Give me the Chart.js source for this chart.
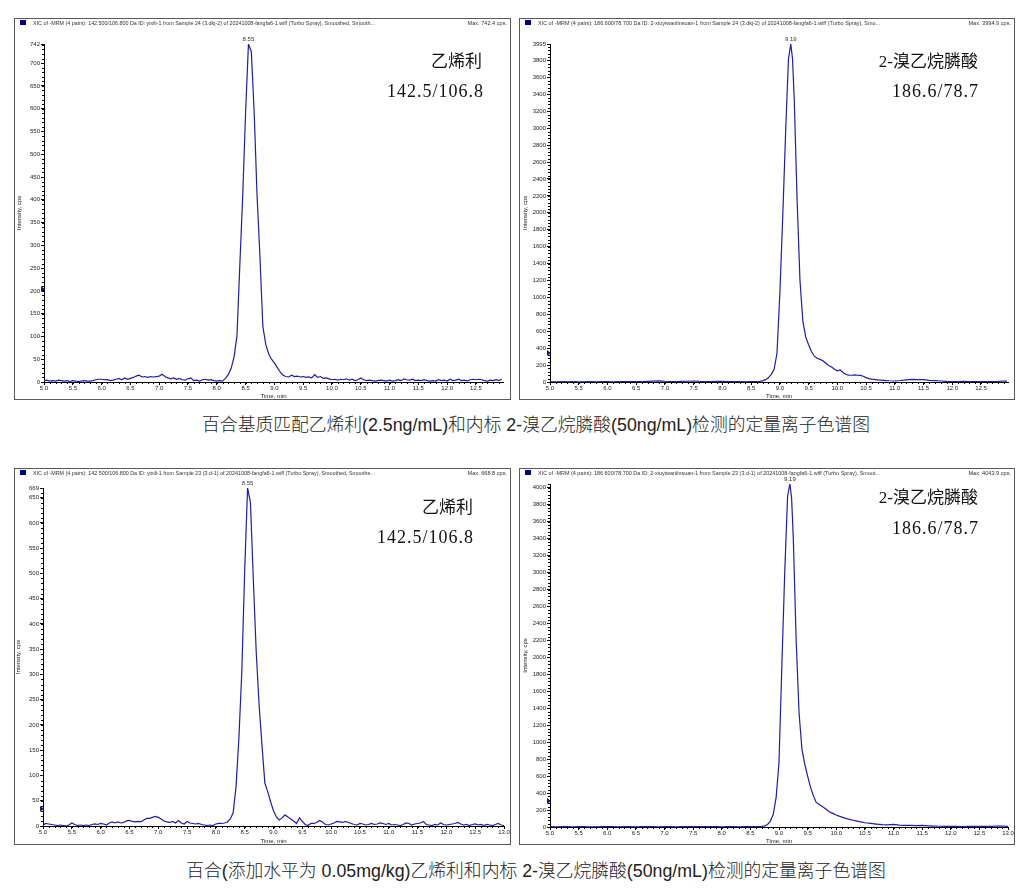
<!DOCTYPE html>
<html>
<head>
<meta charset="utf-8">
<script src="https://cdn.jsdelivr.net/npm/chart.js@4.4.1/dist/chart.umd.min.js"></script>
<style>
  body { margin: 0; background: #fff; }
  #page { position: relative; width: 1034px; height: 896px; overflow: hidden;
          font-family: "Liberation Sans", "Noto Sans CJK SC", sans-serif; }
  #page canvas { position: absolute; }
  .name { position: absolute; white-space: nowrap; color: #111; line-height: 20px;
          font-family: "Liberation Serif", "Noto Sans CJK SC", serif; }
  .trans { letter-spacing: 1px; font-size: 18px; }
  .caption { position: absolute; left: 19px; width: 1034px; text-align: center;
             font-size: 17.8px; line-height: 22px; color: #222; font-weight: 300; }
</style>
</head>
<body>
<div id="page">
  <canvas id="c1"></canvas>
  <canvas id="c2"></canvas>
  <canvas id="c3"></canvas>
  <canvas id="c4"></canvas>

  <div class="name" style="right:552px;top:52px;font-size:17px">乙烯利</div>
  <div class="name trans" style="right:550px;top:81px">142.5/106.8</div>
  <div class="name" style="right:56px;top:52px;font-size:17px">2-溴乙烷膦酸</div>
  <div class="name trans" style="right:55px;top:81px">186.6/78.7</div>
  <div class="name" style="right:561px;top:498px;font-size:17px">乙烯利</div>
  <div class="name trans" style="right:560px;top:527px">142.5/106.8</div>
  <div class="name" style="right:56px;top:488px;font-size:17px">2-溴乙烷膦酸</div>
  <div class="name trans" style="right:55px;top:518px">186.6/78.7</div>

  <div class="caption" style="top:414px">百合基质匹配乙烯利(2.5ng/mL)和内标 2-溴乙烷膦酸(50ng/mL)检测的定量离子色谱图</div>
  <div class="caption" style="top:860px">百合(添加水平为 0.05mg/kg)乙烯利和内标 2-溴乙烷膦酸(50ng/mL)检测的定量离子色谱图</div>
</div>

<script>
// [time (min), intensity (cps)]
const ethephonMatrix = [
  [5.00,3],[5.05,4],[5.10,2],[5.15,3],[5.20,2],[5.25,4],[5.30,3],[5.35,2],[5.40,3],[5.45,1],
  [5.50,3],[5.55,2],[5.60,1],[5.65,2],[5.70,3],[5.75,2],[5.80,2],[5.85,3],[5.90,5],[5.95,6],
  [6.00,6],[6.05,5],[6.10,5],[6.15,3],[6.20,4],[6.25,6],[6.30,8],[6.35,5],[6.40,9],[6.45,6],
  [6.50,8],[6.55,10],[6.60,13],[6.65,15],[6.70,11],[6.75,12],[6.80,10],[6.85,12],[6.90,11],[6.95,12],
  [7.00,13],[7.05,17],[7.10,12],[7.15,9],[7.20,7],[7.25,9],[7.30,6],[7.35,8],[7.40,5],[7.45,4],
  [7.50,7],[7.55,9],[7.60,3],[7.65,4],[7.70,2],[7.75,5],[7.80,6],[7.85,4],[7.90,5],[7.95,3],
  [8.00,2],[8.05,3],[8.10,2],[8.15,8],[8.20,16],[8.25,30],[8.30,55],[8.35,100],[8.40,255],[8.45,407],
  [8.50,590],[8.55,742],[8.60,725],[8.65,590],[8.70,407],[8.75,275],[8.80,122],[8.85,83],[8.90,62],[8.95,50],
  [9.00,42],[9.05,32],[9.10,22],[9.15,15],[9.20,12],[9.25,11],[9.30,15],[9.35,12],[9.40,13],[9.45,11],
  [9.50,12],[9.55,10],[9.60,11],[9.65,9],[9.70,16],[9.75,10],[9.80,12],[9.85,8],[9.90,9],[9.95,7],
  [10.00,5],[10.05,6],[10.10,4],[10.15,6],[10.20,5],[10.25,7],[10.30,4],[10.35,6],[10.40,3],[10.45,5],
  [10.50,9],[10.55,5],[10.60,3],[10.65,4],[10.70,3],[10.75,2],[10.80,3],[10.85,4],[10.90,3],[10.95,2],
  [11.00,4],[11.05,2],[11.10,3],[11.15,5],[11.20,3],[11.25,7],[11.30,5],[11.35,4],[11.40,6],[11.45,3],
  [11.50,4],[11.55,3],[11.60,5],[11.65,3],[11.70,2],[11.75,3],[11.80,2],[11.85,5],[11.90,3],[11.95,4],
  [12.00,2],[12.05,6],[12.10,3],[12.15,4],[12.20,6],[12.25,3],[12.30,4],[12.35,2],[12.40,5],[12.45,6],
  [12.50,5],[12.55,6],[12.60,5],[12.65,3],[12.70,2],[12.75,4],[12.80,3],[12.85,5],[12.90,3],[12.95,6]
];

const bromoMatrix = [
  [5.0,3],[5.1,2],[5.2,4],[5.3,3],[5.4,5],[5.5,3],[5.6,2],[5.7,4],[5.8,3],[5.9,5],
  [6.0,4],[6.1,3],[6.2,5],[6.3,4],[6.4,6],[6.5,5],[6.6,4],[6.7,7],[6.8,10],[6.9,14],
  [7.0,9],[7.1,6],[7.2,5],[7.3,7],[7.4,9],[7.5,12],[7.6,8],[7.7,6],[7.8,5],[7.9,7],
  [8.0,9],[8.1,6],[8.2,4],[8.3,5],[8.4,3],[8.5,4],[8.6,6],[8.65,8],[8.7,14],[8.75,28],
  [8.8,50],[8.85,90],[8.9,150],[8.95,340],[9.0,1050],[9.05,1950],[9.1,2950],[9.15,3820],[9.19,3995],[9.22,3820],
  [9.25,3350],[9.3,2150],[9.35,1200],[9.4,720],[9.45,530],[9.5,440],[9.55,360],[9.6,305],[9.65,280],[9.7,268],
  [9.75,250],[9.8,222],[9.85,195],[9.9,178],[9.95,150],[10.0,132],[10.05,142],[10.1,112],[10.15,88],[10.2,82],
  [10.25,80],[10.3,84],[10.35,80],[10.4,78],[10.45,68],[10.5,52],[10.55,40],[10.6,34],[10.7,25],[10.8,20],
  [10.9,15],[11.0,12],[11.1,18],[11.2,26],[11.3,30],[11.4,28],[11.5,27],[11.6,20],[11.7,17],[11.8,12],
  [11.9,8],[12.0,6],[12.1,5],[12.2,7],[12.3,4],[12.4,6],[12.5,5],[12.6,4],[12.7,6],[12.8,8],
  [12.9,12],[12.95,10]
];

const ethephonSpiked = [
  [5.00,2],[5.05,5],[5.10,4],[5.15,3],[5.20,2],[5.25,1],[5.30,2],[5.35,1],[5.40,0],[5.45,2],
  [5.50,6],[5.55,3],[5.60,1],[5.65,2],[5.70,1],[5.75,2],[5.80,1],[5.85,3],[5.90,4],[5.95,3],
  [6.00,5],[6.05,4],[6.10,2],[6.15,6],[6.20,8],[6.25,6],[6.30,8],[6.35,6],[6.40,7],[6.45,10],
  [6.50,11],[6.55,9],[6.60,8],[6.65,9],[6.70,8],[6.75,12],[6.80,15],[6.85,15],[6.90,17],[6.95,19],
  [7.00,17],[7.05,14],[7.10,10],[7.15,8],[7.20,7],[7.25,9],[7.30,6],[7.35,11],[7.40,6],[7.45,4],
  [7.50,9],[7.55,6],[7.60,5],[7.65,4],[7.70,5],[7.75,3],[7.80,2],[7.85,1],[7.90,2],[7.95,1],
  [8.00,4],[8.05,5],[8.10,5],[8.15,6],[8.20,8],[8.25,14],[8.30,26],[8.35,78],[8.40,175],[8.45,305],
  [8.50,505],[8.55,669],[8.60,640],[8.65,487],[8.70,345],[8.75,240],[8.80,160],[8.85,85],[8.90,68],[8.95,48],
  [9.00,30],[9.05,18],[9.10,12],[9.15,16],[9.20,22],[9.25,18],[9.30,14],[9.35,10],[9.40,5],[9.45,16],
  [9.50,9],[9.55,3],[9.60,1],[9.65,5],[9.70,5],[9.75,7],[9.80,11],[9.85,8],[9.90,3],[9.95,2],
  [10.00,4],[10.05,6],[10.10,9],[10.15,8],[10.20,7],[10.25,9],[10.30,7],[10.35,5],[10.40,3],[10.45,2],
  [10.50,5],[10.55,4],[10.60,2],[10.65,3],[10.70,5],[10.75,3],[10.80,4],[10.85,6],[10.90,5],[10.95,3],
  [11.00,5],[11.05,2],[11.10,3],[11.15,2],[11.20,1],[11.25,3],[11.30,6],[11.35,5],[11.40,2],[11.45,4],
  [11.50,5],[11.55,6],[11.60,9],[11.65,3],[11.70,2],[11.75,1],[11.80,3],[11.85,2],[11.90,6],[11.95,3],
  [12.00,2],[12.05,3],[12.10,4],[12.15,5],[12.20,7],[12.25,4],[12.30,2],[12.35,3],[12.40,1],[12.45,3],
  [12.50,4],[12.55,2],[12.60,3],[12.65,1],[12.70,3],[12.75,2],[12.80,1],[12.85,3],[12.90,5],[12.95,2],
  [13.00,1]
];

const bromoSpiked = [
  [5.0,4],[5.1,3],[5.2,5],[5.3,4],[5.4,3],[5.5,6],[5.6,4],[5.7,3],[5.8,2],[5.9,4],
  [6.0,5],[6.1,4],[6.2,3],[6.3,5],[6.4,4],[6.5,3],[6.6,4],[6.7,5],[6.8,4],[6.9,3],
  [7.0,5],[7.1,4],[7.2,3],[7.3,4],[7.4,6],[7.5,5],[7.6,4],[7.7,6],[7.8,5],[7.9,4],
  [8.0,3],[8.1,5],[8.2,4],[8.3,3],[8.4,5],[8.5,4],[8.6,5],[8.65,6],[8.7,8],[8.75,14],
  [8.8,30],[8.85,70],[8.9,150],[8.95,350],[9.0,760],[9.05,1900],[9.1,3000],[9.15,3900],[9.19,4044],[9.22,3880],
  [9.25,3400],[9.3,2200],[9.35,1350],[9.4,920],[9.45,740],[9.5,600],[9.55,470],[9.6,370],[9.65,290],[9.7,268],
  [9.75,245],[9.8,222],[9.85,195],[9.9,172],[9.95,158],[10.0,142],[10.05,128],[10.1,116],[10.15,104],[10.2,95],
  [10.25,87],[10.3,80],[10.35,72],[10.4,64],[10.45,58],[10.5,50],[10.6,42],[10.7,35],[10.8,28],[10.9,24],
  [11.0,30],[11.1,22],[11.2,20],[11.3,18],[11.4,16],[11.5,18],[11.6,14],[11.7,11],[11.8,9],[11.9,8],
  [12.0,7],[12.1,8],[12.2,6],[12.3,7],[12.4,8],[12.5,7],[12.6,9],[12.7,8],[12.8,10],[12.9,12],
  [13.0,8]
];

// tick labels
const xTicksShort = [5.0,5.5,6.0,6.5,7.0,7.5,8.0,8.5,9.0,9.5,10.0,10.5,11.0,11.5,12.0,12.5];
const xTicksLong = [5.0,5.5,6.0,6.5,7.0,7.5,8.0,8.5,9.0,9.5,10.0,10.5,11.0,11.5,12.0,12.5,13.0];
const yTicksEthMatrix = [0,50,100,150,200,250,300,350,400,450,500,550,600,650,700,742];
const yTicksBroMatrix = [0,200,400,600,800,1000,1200,1400,1600,1800,2000,2200,2400,2600,2800,3000,3200,3400,3600,3800,3995];
const yTicksEthSpiked = [0,50,100,150,200,250,300,350,400,450,500,550,600,650,669];
const yTicksBroSpiked = [0,200,400,600,800,1000,1200,1400,1600,1800,2000,2200,2400,2600,2800,3000,3200,3400,3600,3800,4000];

const headers = [
  'XIC of -MRM (4 pairs): 142.500/106.800 Da ID: yixili-1 from Sample 24 (3.dkj-2) of 20241008-fangfa6-1.wiff (Turbo Spray), Smoothed, Smooth...',
  'XIC of -MRM (4 pairs): 186.600/78.700 Da ID: 2-xiuyiwanlinsuan-1 from Sample 24 (3.dkj-2) of 20241008-fangfa6-1.wiff (Turbo Spray), Smo...',
  'XIC of -MRM (4 pairs): 142.500/106.800 Da ID: yixili-1 from Sample 23 (3.d-1) of 20241008-fangfa6-1.wiff (Turbo Spray), Smoothed, Smoothe...',
  'XIC of -MRM (4 pairs): 186.600/78.700 Da ID: 2-xiuyiwanlinsuan-1 from Sample 23 (3.d-1) of 20241008-fangfa6-1.wiff (Turbo Spray), Smoot...'
];
const maxLabels = ['Max. 742.4 cps.', 'Max. 3994.9 cps.', 'Max. 668.8 cps.', 'Max. 4043.9 cps.'];
const peakLabels = ['8.55', '9.19', '8.55', '9.19'];

const LINE = '#1e1ea6';
const TXT = '#222';
const YAXIS_W = 28;

// frame, header, minor ticks, peak label
const panelDecor = {
  id: 'panelDecor',
  beforeDraw(chart, args, o) {
    const ctx = chart.ctx, w = chart.width, h = chart.height;
    ctx.save();
    ctx.fillStyle = '#fff';
    ctx.fillRect(0, 0, w, h);
    ctx.strokeStyle = '#5a5a5a';
    ctx.lineWidth = 1;
    ctx.strokeRect(0.5, 0.5, w - 1, h - 1);
    ctx.fillStyle = '#00008b';
    ctx.fillRect(6, 2, 6, 5);
    ctx.fillStyle = '#333';
    ctx.font = '5.6px "Liberation Sans"';
    ctx.textBaseline = 'middle';
    ctx.fillText(o.header, 19, 5, 342);
    ctx.textAlign = 'right';
    ctx.fillText(o.maxText, w - 4, 5);
    ctx.restore();
  },
  afterDraw(chart, args, o) {
    const ctx = chart.ctx, {x, y} = chart.scales, area = chart.chartArea;
    ctx.save();
    ctx.strokeStyle = '#000';
    ctx.lineWidth = 1;
    ctx.beginPath();
    for (let v = 0; v <= y.max; v += o.yMinor) {
      const py = Math.round(y.getPixelForValue(v)) + 0.5;
      ctx.moveTo(area.left - 2, py);
      ctx.lineTo(area.left, py);
    }
    for (let i = 0; 5 + i * 0.1 <= x.max + 1e-6; i++) {
      const px = Math.round(x.getPixelForValue(5 + i * 0.1)) + 0.5;
      ctx.moveTo(px, area.bottom);
      ctx.lineTo(px, area.bottom + 2);
    }
    ctx.stroke();

    // peak apex label
    const pts = chart.data.datasets[0].data;
    let top = pts[0];
    pts.forEach(p => { if (p.y > top.y) top = p; });
    ctx.fillStyle = '#333';
    ctx.font = '6px "Liberation Sans"';
    ctx.textAlign = 'center';
    ctx.textBaseline = 'bottom';
    ctx.fillText(o.peak, x.getPixelForValue(top.x), y.getPixelForValue(top.y) - 2);

    // y-axis marker
    const my = y.getPixelForValue(o.marker);
    ctx.fillStyle = '#1a1a70';
    ctx.beginPath();
    ctx.moveTo(area.left - 3, my - 3);
    ctx.lineTo(area.left + 1, my);
    ctx.lineTo(area.left - 3, my + 3);
    ctx.closePath();
    ctx.fill();
    ctx.restore();
  }
};

function makePanel(id, frame, plot, series, xTicks, xMax, yTicks, yMax, yMinor, idx, marker) {
  const canvas = document.getElementById(id);
  canvas.width = frame.r - frame.l;
  canvas.height = frame.b - frame.t;
  canvas.style.left = frame.l + 'px';
  canvas.style.top = frame.t + 'px';

  const tickFont = { family: 'Liberation Sans', size: 6 };
  new Chart(canvas, {
    type: 'line',
    data: {
      datasets: [{
        data: series.map(p => ({ x: p[0], y: p[1] })),
        borderColor: LINE,
        borderWidth: 1.2,
        pointRadius: 0,
        tension: 0,
        fill: false
      }]
    },
    options: {
      responsive: false,
      animation: false,
      devicePixelRatio: 1,
      layout: {
        padding: {
          left: plot.l - frame.l - YAXIS_W,
          top: plot.t - frame.t,
          right: frame.r - plot.r,
          bottom: 0
        }
      },
      plugins: {
        legend: { display: false },
        tooltip: { enabled: false },
        panelDecor: {
          header: headers[idx], maxText: maxLabels[idx], peak: peakLabels[idx],
          yMinor: yMinor, marker: marker
        }
      },
      scales: {
        x: {
          type: 'linear', min: 5, max: xMax,
          afterBuildTicks: s => { s.ticks = xTicks.map(v => ({ value: v })); },
          afterFit: s => { s.height = frame.b - plot.b; },
          ticks: { font: tickFont, color: TXT, padding: 0, maxRotation: 0, autoSkip: false,
                   callback: v => Number(v).toFixed(1) },
          grid: { drawOnChartArea: false, drawTicks: true, tickLength: 3, color: '#000' },
          border: { color: '#000', width: 1 },
          title: { display: true, text: 'Time, min', font: tickFont, color: TXT, padding: 0 }
        },
        y: {
          type: 'linear', min: 0, max: yMax,
          afterBuildTicks: s => { s.ticks = yTicks.map(v => ({ value: v })); },
          afterFit: s => { s.width = YAXIS_W; },
          ticks: { font: tickFont, color: TXT, padding: 1, autoSkip: false,
                   callback: v => String(v) },
          grid: { drawOnChartArea: false, drawTicks: true, tickLength: 3, color: '#000' },
          border: { color: '#000', width: 1 },
          title: { display: true, text: 'Intensity, cps', font: tickFont, color: TXT, padding: 0 }
        }
      }
    },
    plugins: [panelDecor]
  });
}

makePanel('c1', {l:14, t:18, r:511, b:400}, {l:44, t:44, r:503, b:382},
  ethephonMatrix, xTicksShort, 12.97, yTicksEthMatrix, 742, 10, 0, 204);
makePanel('c2', {l:519, t:18, r:1015, b:400}, {l:550, t:44, r:1008, b:382},
  bromoMatrix, xTicksShort, 12.97, yTicksBroMatrix, 3995, 40, 1, 343);
makePanel('c3', {l:14, t:468, r:511, b:845}, {l:43, t:488, r:504, b:826},
  ethephonSpiked, xTicksLong, 13.0, yTicksEthSpiked, 669, 10, 2, 34);
makePanel('c4', {l:519, t:468, r:1015, b:845}, {l:550, t:484, r:1008, b:827},
  bromoSpiked, xTicksLong, 13.0, yTicksBroSpiked, 4044, 40, 3, 307);
</script>
</body>
</html>
